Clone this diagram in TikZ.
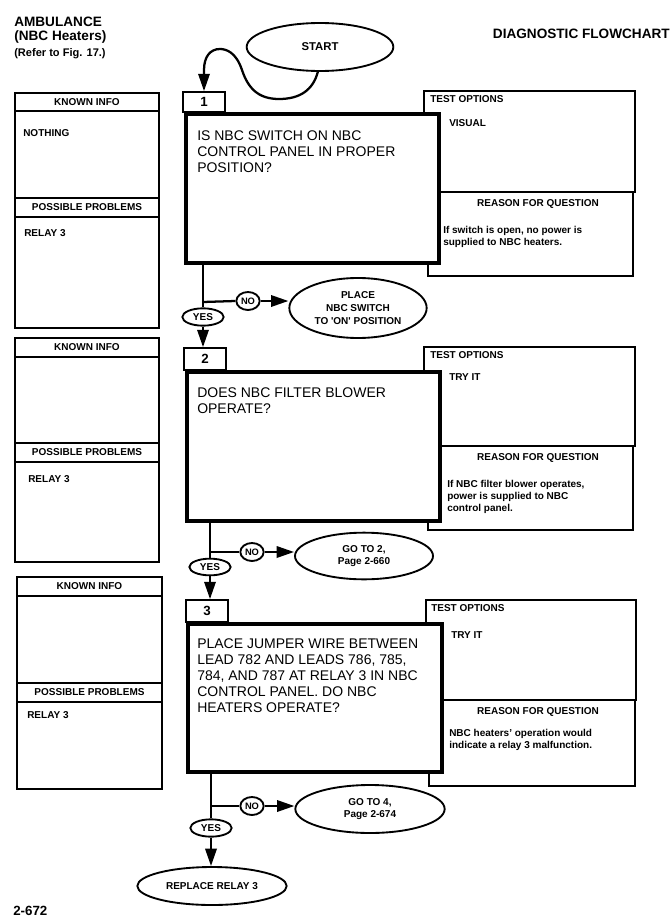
\documentclass[tikz,border=0pt]{standalone}
\usepackage{fontspec}
\setmainfont{Liberation Sans}
\usetikzlibrary{shapes.geometric,arrows.meta,fit}
\begin{document}
\begin{tikzpicture}[x=0.75pt,y=-0.75pt,
  box/.style={draw,line width=1.3pt,inner sep=0pt},
  mainbox/.style={draw,line width=3.3pt,fill=white,inner sep=0pt},
  lbl/.style={font=\fontsize{7.5}{9}\selectfont\bfseries,inner sep=0pt},
  hdr/.style={font=\fontsize{10.2}{12}\selectfont\bfseries,inner sep=0pt,anchor=base west},
  qtext/.style={font=\fontsize{10.5}{12}\selectfont,align=left,anchor=north west,inner sep=0pt},
  rtext/.style={font=\fontsize{7.5}{9}\selectfont\bfseries,align=left,anchor=north west,inner sep=0pt},
  numtext/.style={font=\fontsize{10}{12}\selectfont\bfseries,inner sep=0pt},
  oval/.style={ellipse,draw,line width=1.4pt,fill=white,inner sep=0pt,align=center,font=\fontsize{7.5}{9.5}\selectfont\bfseries},
  conn/.style={line width=1.7pt},
  arr/.style={conn,-{Triangle[length=13pt,width=8.5pt]}}
]
\fill[white] (0,0) rectangle (670,917);
\useasboundingbox (0,0) rectangle (670,917);

% ---------- header ----------
\node[hdr] (amb) at (14,27) {AMBULANCE};
\node[hdr] (nbc) at (14,41) {(NBC Heaters)};
\node[hdr,font=\fontsize{8.3}{10}\selectfont\bfseries] (refer) at (14,57) {(Refer to Fig. 17.)};
\node[hdr,anchor=base east] (diag) at (670,39) {DIAGNOSTIC FLOWCHART};

% ---------- left column ----------
\node[box,fit={(15,93) (159,328)}] (lb1) {};
\node[box,fit={(15,93) (159,111)}] (ki1) {};
\node[box,fit={(15,198) (159,217)}] (pp1) {};
\node[lbl] (ki1t) at (ki1.center) {KNOWN INFO};
\node[lbl] (pp1t) at (pp1.center) {POSSIBLE PROBLEMS};
\node[lbl,anchor=base west] (kn1) at (23,136.6) {NOTHING};
\node[lbl,anchor=base west] (pr1) at (24,236.6) {RELAY 3};

\node[box,fit={(15,338) (159,562)}] (lb2) {};
\node[box,fit={(15,338) (159,357)}] (ki2) {};
\node[box,fit={(15,443) (159,462)}] (pp2) {};
\node[lbl] (ki2t) at (ki2.center) {KNOWN INFO};
\node[lbl] (pp2t) at (pp2.center) {POSSIBLE PROBLEMS};
\node[lbl,anchor=base west] (pr2) at (28,482.6) {RELAY 3};

\node[box,fit={(17,577) (162,789)}] (lb3) {};
\node[box,fit={(17,577) (162,596)}] (ki3) {};
\node[box,fit={(17,683) (162,702)}] (pp3) {};
\node[lbl] (ki3t) at (ki3.center) {KNOWN INFO};
\node[lbl] (pp3t) at (pp3.center) {POSSIBLE PROBLEMS};
\node[lbl,anchor=base west] (pr3) at (27,718.6) {RELAY 3};

% ---------- right column ----------
\node[box,fit={(424,91) (635,192)}] (to1) {};
\node[box,fit={(428,192) (633,276)}] (r1) {};
\node[box,fit={(424,347) (635,446)}] (to2) {};
\node[box,fit={(428,446) (633,530)}] (r2) {};
\node[box,fit={(426,600) (636,700)}] (to3) {};
\node[box,fit={(429,700) (635,786)}] (r3) {};

% ---------- step boxes ----------
\node[box,fit={(183,92) (225,112)}] (s1) {};
\node[box,fit={(184,348) (226,370)}] (s2) {};
\node[box,fit={(186,600) (228,622)}] (s3) {};
\node[numtext] (s1t) at (s1.center) {1};
\node[numtext] (s2t) at (s2.center) {2};
\node[numtext] (s3t) at (s3.center) {3};

% ---------- main boxes ----------
\node[mainbox,fit={(186,114) (439,263)}] (m1) {};
\node[mainbox,fit={(187,372) (440,521)}] (m2) {};
\node[mainbox,fit={(188,624) (442,772)}] (m3) {};

\node[qtext] (q1) at (197,130) {IS NBC SWITCH ON NBC\\CONTROL PANEL IN PROPER\\POSITION?};
\node[qtext] (q2) at (197,387) {DOES NBC FILTER BLOWER\\OPERATE?};
\node[qtext] (q3) at (197,638) {PLACE JUMPER WIRE BETWEEN\\LEAD 782 AND LEADS 786, 785,\\784, AND 787 AT RELAY 3 IN NBC\\CONTROL PANEL. DO NBC\\HEATERS OPERATE?};

% ---------- right texts ----------
\node[lbl,anchor=base west] (to1t) at (430,102.6) {TEST OPTIONS};
\node[lbl,anchor=base west] (to1v) at (449,126.6) {VISUAL};
\node[lbl,anchor=base] (r1t) at (538,206.6) {REASON FOR QUESTION};
\node[rtext] (r1x) at (443,226.4) {If switch is open, no power is\\supplied to NBC heaters.};

\node[lbl,anchor=base west] (to2t) at (430,358.6) {TEST OPTIONS};
\node[lbl,anchor=base west] (to2v) at (449,380.6) {TRY IT};
\node[lbl,anchor=base] (r2t) at (538,460.6) {REASON FOR QUESTION};
\node[rtext] (r2x) at (447,479.5) {If NBC filter blower operates,\\power is supplied to NBC\\control panel.};

\node[lbl,anchor=base west] (to3t) at (431,611.6) {TEST OPTIONS};
\node[lbl,anchor=base west] (to3v) at (451,638.6) {TRY IT};
\node[lbl,anchor=base] (r3t) at (538,714.6) {REASON FOR QUESTION};
\node[rtext] (r3x) at (449,728.5) {NBC heaters' operation would\\indicate a relay 3 malfunction.};

% ---------- ovals ----------
\node[oval,minimum width=110pt,minimum height=36pt,font=\fontsize{8.5}{10}\selectfont\bfseries] (start) at (320,47) {START};

\node[oval,minimum width=31pt,minimum height=13pt] (yes1) at (203,317) {YES};
\node[oval,minimum width=17.5pt,minimum height=13.5pt,font=\fontsize{7}{8}\selectfont\bfseries] (no1) at (248,301) {NO};
\node[oval,minimum width=103pt,minimum height=45pt] (e1) at (358,308) {PLACE\\NBC SWITCH\\TO \textquotesingle ON\textquotesingle{} POSITION};

\node[oval,minimum width=31pt,minimum height=12.5pt] (yes2) at (210,567) {YES};
\node[oval,minimum width=17.5pt,minimum height=13.5pt,font=\fontsize{7}{8}\selectfont\bfseries] (no2) at (252,552) {NO};
\node[oval,minimum width=103.5pt,minimum height=35pt] (e2) at (364,556) {GO TO 2,\\Page 2-660};

\node[oval,minimum width=31pt,minimum height=13pt] (yes3) at (211,828) {YES};
\node[oval,minimum width=17.5pt,minimum height=13.5pt,font=\fontsize{7}{8}\selectfont\bfseries] (no3) at (252,806) {NO};
\node[oval,minimum width=112pt,minimum height=36pt] (e3) at (370,809) {GO TO 4,\\Page 2-674};

\node[oval,minimum width=112pt,minimum height=28.5pt] (rep) at (212,886) {REPLACE RELAY 3};

% ---------- connectors ----------
\draw[arr] (start.265) .. controls (313,90) and (300,99) .. (279,99)
  .. controls (258,99) and (248,88) .. (242,70)
  .. controls (236,52) and (226,49) .. (220,49)
  .. controls (210,49) and (204,57) .. (204,70) -- (s1.north);

\coordinate (j1) at (203,302);
\draw[conn] (m1.south -| j1) -- (yes1.north);
\draw[arr] (yes1.south) -- (yes1.south |- s2.north);
\draw[conn] (j1) -- (no1.west);
\draw[arr] (no1.east) -- (no1.east -| e1.west);

\coordinate (j2) at (210,552);
\draw[conn] (m2.south -| j2) -- (yes2.north);
\draw[arr] (yes2.south) -- (yes2.south |- s3.north);
\draw[conn] (j2) -- (no2.west);
\draw[arr] (no2.east) -- (no2.east -| e2.west);

\coordinate (j3) at (211,806);
\draw[conn] (m3.south -| j3) -- (yes3.north);
\draw[arr] (yes3.south) -- (yes3.south |- rep.north);
\draw[conn] (j3) -- (no3.west);
\draw[arr] (no3.east) -- (no3.east -| e3.west);

% ---------- page number ----------
\node[font=\fontsize{10}{12}\selectfont\bfseries,anchor=base west,inner sep=0pt] (pg) at (13,915.5) {2-672};
\end{tikzpicture}
\end{document}
